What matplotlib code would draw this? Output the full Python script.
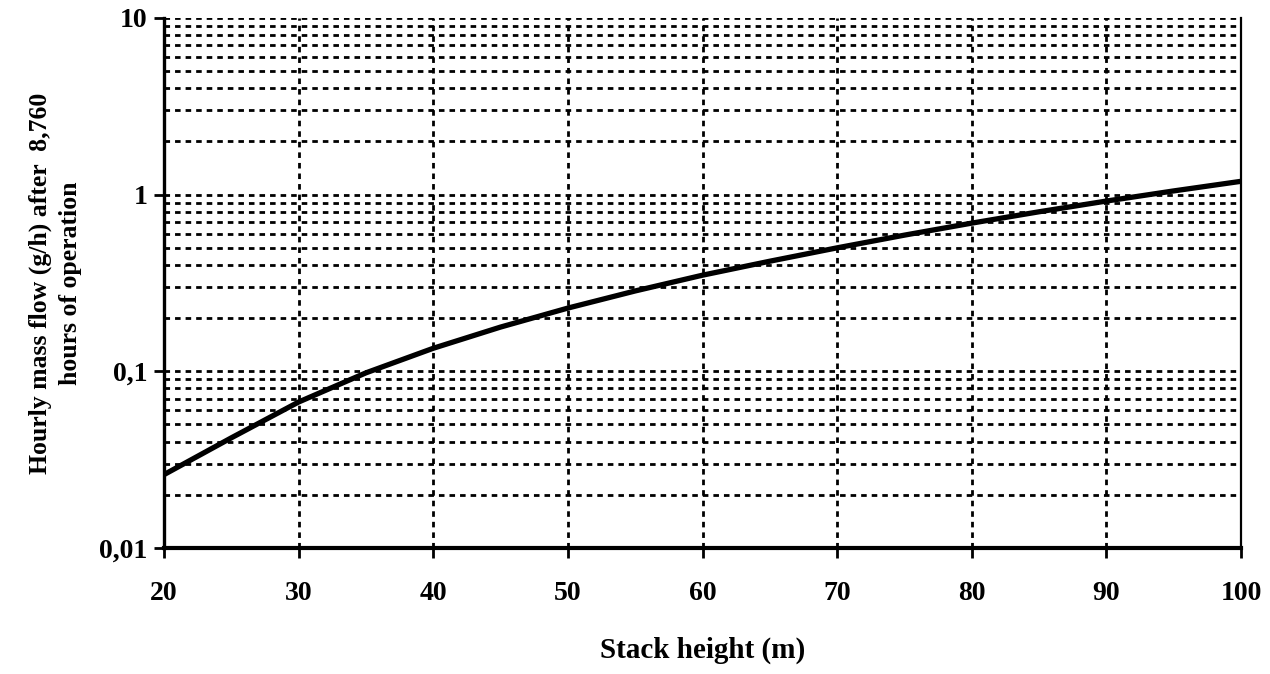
import numpy as np
import matplotlib
matplotlib.use('Agg')
import matplotlib.pyplot as plt
from matplotlib.ticker import FixedLocator, FuncFormatter, LogLocator, NullFormatter

# values
stack_height = [20, 25, 30, 35, 40, 45, 50, 55, 60, 65, 70, 75, 80, 85, 90, 95, 100]
mass_flow = [0.026, 0.042, 0.067, 0.098, 0.135, 0.178, 0.228, 0.285, 0.35,
             0.42, 0.5, 0.59, 0.69, 0.8, 0.92, 1.05, 1.19]

x_ticks = [20, 30, 40, 50, 60, 70, 80, 90, 100]
y_ticks = [0.01, 0.1, 1, 10]
y_tick_labels = ['0,01', '0,1', '1', '10']

plt.rcParams['font.family'] = ['Liberation Serif', 'DejaVu Serif']
plt.rcParams['font.weight'] = 'bold'

fig = plt.figure(figsize=(12.7, 6.74), dpi=100)
ax = fig.add_axes([0.1291, 0.187, 0.8481, 0.7863])

ax.set_yscale('log')
ax.set_xlim(20, 100)
ax.set_ylim(0.01, 10)

ax.plot(stack_height, mass_flow, color='black', linewidth=3.8, solid_capstyle='butt', zorder=5)

ax.xaxis.set_major_locator(FixedLocator(x_ticks))
ax.yaxis.set_major_locator(FixedLocator(y_ticks))
ax.yaxis.set_major_formatter(FuncFormatter(lambda v, p: y_tick_labels[y_ticks.index(v)] if v in y_ticks else ''))
ax.yaxis.set_minor_locator(LogLocator(base=10, subs=np.arange(2, 10)))
ax.yaxis.set_minor_formatter(NullFormatter())

grid_style = dict(color='black', linewidth=2.0, linestyle=(0, (2.0, 1.8)))
ax.grid(True, which='major', axis='both', **grid_style)
ax.grid(True, which='minor', axis='y', **grid_style)

ax.tick_params(axis='both', which='major', direction='out', length=7, width=2,
               labelsize=20, pad=5)
ax.tick_params(axis='x', which='major', pad=17)
ax.tick_params(axis='y', which='minor', length=0)

for lab in ax.get_xticklabels() + ax.get_yticklabels():
    lab.set_fontweight('bold')

ax.spines['left'].set_linewidth(2.4)
ax.spines['bottom'].set_linewidth(3.0)
ax.spines['right'].set_linewidth(1.6)
ax.spines['top'].set_visible(False)

ax.set_xlabel('Stack height (m)', fontsize=21, fontweight='bold', labelpad=22)
ax.set_ylabel('Hourly mass flow (g/h) after  8,760\nhours of operation', fontsize=18.5,
              fontweight='bold', linespacing=1.4)
ax.yaxis.set_label_coords(-0.076, 0.5)

fig.savefig('out.png', dpi=100)
